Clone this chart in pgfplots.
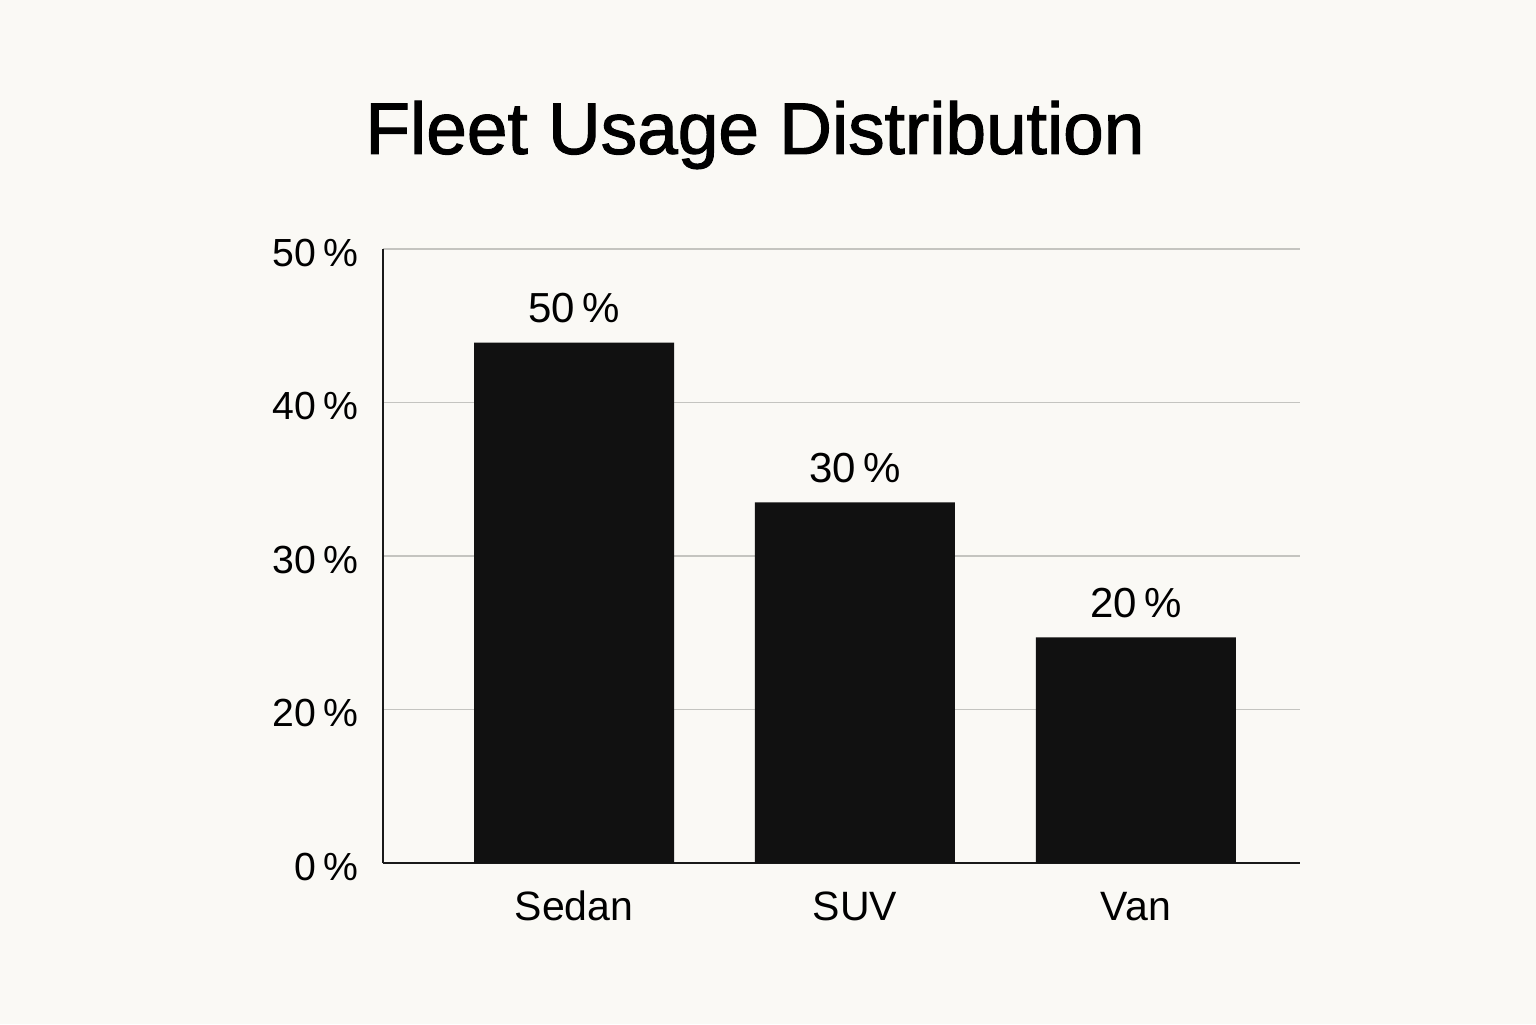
\documentclass[border=0pt]{standalone}
\usepackage{pgfplots}
\pgfplotsset{compat=1.18}
\usepackage{fontspec}
\setmainfont{Liberation Sans}
\newfontfamily\titlefont[FakeBold=1.5]{Liberation Sans}
\definecolor{bg}{HTML}{FAF9F5}
\definecolor{barc}{HTML}{111111}
\definecolor{gridc}{HTML}{C4C4C0}
\begin{document}
\begin{tikzpicture}[x=1pt,y=1pt]
\fill[bg] (0,0) rectangle (768,512);
\node[font=\titlefont\fontsize{36.5}{40}\selectfont] at (377.5,444.5) {Fleet Usage Distribution};
\begin{axis}[
  at={(191.5pt,80.5pt)}, anchor=south west,
  scale only axis, width=458.5pt, height=307pt,
  xmin=-0.68, xmax=2.584, ymin=0, ymax=4,
  axis x line*=bottom, axis y line*=left,
  axis line style={line width=0.9pt, color=black!90},
  x axis line style={-}, y axis line style={-},
  xtick={0,1,2}, xticklabels={Sedan,SUV,Van},
  ytick={0,1,2,3,4}, yticklabels={0\,\%,20\,\%,30\,\%,40\,\%,50\,\%},
  major tick length=0pt,
  ymajorgrids, grid style={gridc, line width=0.6pt},
  tick label style={text=black},
  yticklabel style={font=\fontsize{19.6}{22}\selectfont, anchor=base east, xshift=-9pt, yshift=-8.5pt},
  xticklabel style={font=\fontsize{20.5}{22}\selectfont, anchor=base, yshift=-28.5pt},
  /pgf/number format/assume math mode=true,
  ybar, bar width=100pt,
  point meta=explicit symbolic,
  nodes near coords,
  nodes near coords style={font=\fontsize{21}{23}\selectfont, anchor=base, yshift=10pt, text=black},
]
\addplot[fill=barc, draw=none] coordinates {(0,3.39) [50\,\%] (1,2.35) [30\,\%] (2,1.47) [20\,\%]};
\end{axis}
\end{tikzpicture}
\end{document}
